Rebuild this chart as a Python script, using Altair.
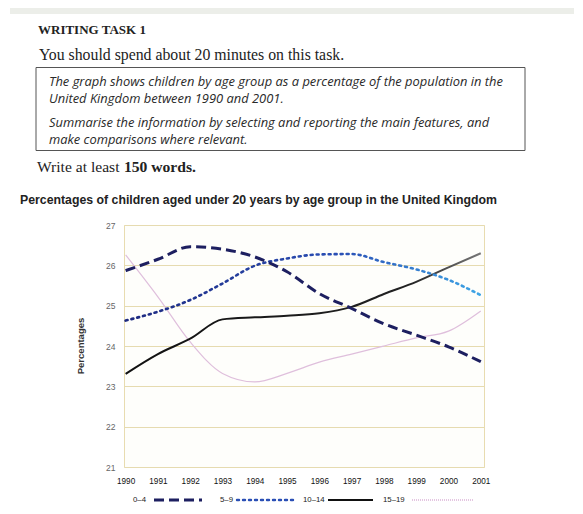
import altair as alt
import pandas as pd

years = list(range(1990, 2002))
groups = ["0–4", "5–9", "10–14", "15–19"]
v_0_4 = [25.87, 26.15, 26.46, 26.40, 26.21, 25.84, 25.30, 24.93, 24.55, 24.27, 23.98, 23.61]
v_5_9 = [24.63, 24.85, 25.14, 25.55, 25.99, 26.17, 26.27, 26.28, 26.08, 25.90, 25.64, 25.26]
v_10_14 = [23.31, 23.80, 24.18, 24.66, 24.71, 24.75, 24.81, 24.97, 25.29, 25.59, 25.95, 26.30]
v_15_19 = [26.26, 25.22, 24.10, 23.32, 23.11, 23.32, 23.60, 23.80, 24.00, 24.20, 24.37, 24.87]
y_ticks = [21, 22, 23, 24, 25, 26, 27]

heading = ["WRITING TASK 1"]
instruction = ["You should spend about 20 minutes on this task."]
box_lines = [
    "The graph shows children by age group as a percentage of the population in the",
    "United Kingdom between 1990 and 2001.",
    "Summarise the information by selecting and reporting the main features, and",
    "make comparisons where relevant.",
]
words_a = ["Write at least"]
words_b = ["150 words."]
chart_title = ["Percentages of children aged under 20 years by age group in the United Kingdom"]
y_title = ["Percentages"]

series = {"0–4": v_0_4, "5–9": v_5_9, "10–14": v_10_14, "15–19": v_15_19}
rows = []
for g, vals in series.items():
    for yr, v in zip(years, vals):
        rows.append({"year": yr, "value": v, "group": g})
df = pd.DataFrame(rows)

xscale = alt.Scale(domain=[1989.95, 2001.1], nice=False, zero=False)
yscale = alt.Scale(domain=[21, 27], nice=False, zero=False)

x_axis = alt.Axis(values=years, format="d", title=None, grid=False, domain=False,
                  ticks=False, labelFontSize=8.2, labelColor="#111",
                  labelFont="Liberation Sans", labelPadding=10,
                  labelOverlap=False, labelFlush=False)
y_axis = alt.Axis(values=y_ticks, title=None, grid=True, gridColor="#e6dbb0",
                  gridWidth=1, domain=False, ticks=False, labelFontSize=8.5,
                  labelColor="#666", labelFont="Liberation Sans", labelPadding=9,
                  labelOverlap=False)

def line(g, **kw):
    return alt.Chart(df[df.group == g]).mark_line(interpolate="monotone", **kw).encode(
        x=alt.X("year:Q", scale=xscale, axis=x_axis),
        y=alt.Y("value:Q", scale=yscale, axis=y_axis))

l04 = line("0–4", color="#1d1f60", strokeWidth=3, strokeDash=[10, 5])
l59 = line("5–9", strokeWidth=2.6, strokeDash=[2, 4], strokeCap="round",
           color=alt.Gradient(gradient="linear", x1=0, x2=1, y1=0, y2=0,
                              stops=[alt.GradientStop(color="#1e2a80", offset=0),
                                     alt.GradientStop(color="#2a4fb5", offset=0.6),
                                     alt.GradientStop(color="#3fa6e6", offset=1)]))
l1014 = line("10–14", strokeWidth=2,
             color=alt.Gradient(gradient="linear", x1=0, x2=1, y1=0, y2=0,
                                stops=[alt.GradientStop(color="#111111", offset=0),
                                       alt.GradientStop(color="#222222", offset=0.8),
                                       alt.GradientStop(color="#777777", offset=1)]))
l1519 = line("15–19", color="#dfbfdc", strokeWidth=1.2)

def txt(lines, x, y, size, font="Liberation Serif", weight="normal", style="normal",
        color="#222", align="left", angle=0):
    d = pd.DataFrame({"t": lines})
    kw = dict(align=align, baseline="middle", fontSize=size, font=font,
              fontWeight=weight, fontStyle=style, color=color)
    if angle:
        kw["angle"] = angle
    return alt.Chart(d).mark_text(**kw).encode(
        text="t:N", x=alt.value(x), y=alt.value(y))

# origin of plot area is page (124, 225)
band = alt.Chart(pd.DataFrame({"a": [0]})).mark_rect(fill="#eceee9", stroke=None).encode(
    x=alt.value(-114), x2=alt.value(450), y=alt.value(-217), y2=alt.value(-211))
t_head = txt(heading, -86, -195, 13, weight="bold")
t_instr = txt(instruction, -85, -170, 15.8)
box = alt.Chart(pd.DataFrame({"a": [0]})).mark_rect(fill=None, stroke="#555", strokeWidth=1).encode(
    x=alt.value(-88), x2=alt.value(401), y=alt.value(-157.5), y2=alt.value(-74.5))
bfont = dict(font="Open Sans", style="italic", color="#2a2a2a")
t_b1 = txt([box_lines[0]], -75, -143, 12.9, **bfont)
t_b2 = txt([box_lines[1]], -75, -126, 12.9, **bfont)
t_b3 = txt([box_lines[2]], -75, -102.5, 12.9, **bfont)
t_b4 = txt([box_lines[3]], -75, -85.5, 12.9, **bfont)
t_words_a = txt(words_a, -87, -58, 15.6)
t_words_b = txt(words_b, 0, -58, 15.6, weight="bold")
t_title = txt(chart_title, -104, -25, 12.3, font="Liberation Sans", weight="bold", color="#222")
t_ytitle = txt(y_title, -43, 121, 9.5, font="Liberation Sans", weight="bold", color="#333",
               align="center", angle=270)

# legend
leg_y = 275
leg = []
leg_label_x = [9, 96, 179, 259]
seg = [(30, 78), (113, 171), (204, 249), (288, 349)]
styles = [
    dict(color="#1d1f60", strokeWidth=3, strokeDash=[10, 5]),
    dict(color="#2a4fb5", strokeWidth=2.4, strokeDash=[2, 4], strokeCap="round"),
    dict(color="#111111", strokeWidth=2.2),
    dict(color="#dcb4d8", strokeWidth=1.5, strokeDash=[1, 1]),
]
for g, lx, (s0, s1), st in zip(groups, leg_label_x, seg, styles):
    leg.append(txt([g], lx, leg_y, 7.8, font="Liberation Sans", color="#222"))
    leg.append(alt.Chart(pd.DataFrame({"g": [g]})).mark_rule(**st).encode(
        x=alt.value(s0), x2=alt.value(s1), y=alt.value(leg_y)))

chart = alt.layer(l1519, l1014, l59, l04, band, box, t_head, t_instr, t_b1, t_b2, t_b3, t_b4,
                  t_words_a, t_words_b, t_title, t_ytitle, *leg).properties(
    width=360, height=242,
    autosize=alt.AutoSizeParams(type="none"),
    padding={"left": 116, "top": 217, "right": 90, "bottom": 45},
    background="#ffffff",
).configure_view(stroke="#e8dcb0", fill="#fefefb")

chart.save("out.html", embed_options={"renderer": "svg", "actions": False})
